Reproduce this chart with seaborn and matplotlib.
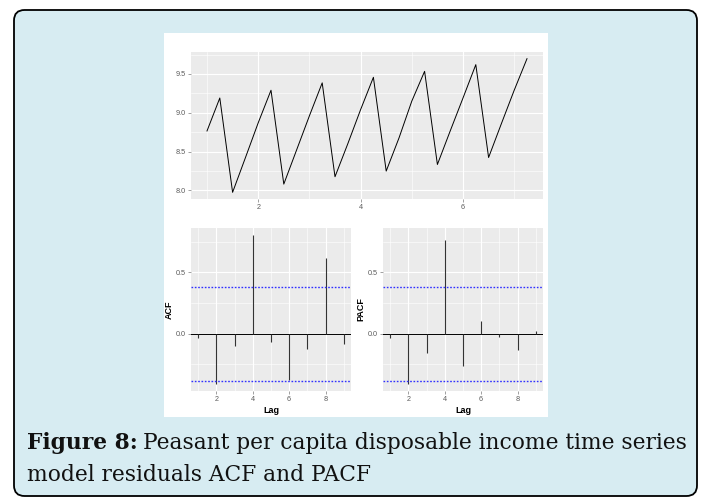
import numpy as np
import pandas as pd
import matplotlib
matplotlib.use("Agg")
import matplotlib.pyplot as plt
import seaborn as sns
from matplotlib.patches import FancyBboxPatch, Rectangle
from matplotlib.ticker import MultipleLocator, FormatStrFormatter

# residual series, quarterly starting at 1
series_time = [1.0, 1.25, 1.5, 1.75, 2.0, 2.25, 2.5, 2.75, 3.0, 3.25, 3.5, 3.75, 4.0,
               4.25, 4.5, 4.75, 5.0, 5.25, 5.5, 5.75, 6.0, 6.25, 6.5, 6.75, 7.0, 7.25]
series_value = [8.765, 9.19, 7.974, 8.42, 8.87, 9.29, 8.08, 8.52, 8.96, 9.385, 8.175, 8.60, 9.04,
                9.457, 8.248, 8.675, 9.15, 9.534, 8.333, 8.765, 9.19, 9.62, 8.423, 8.86, 9.29, 9.697]

lags = [1, 2, 3, 4, 5, 6, 7, 8, 9]
acf_values = [-0.036, -0.407, -0.104, 0.802, -0.066, -0.379, -0.126, 0.621, -0.085]
pacf_values = [-0.033, -0.41, -0.156, 0.768, -0.26, 0.104, -0.025, -0.137, 0.022]
conf_limit = 1.96 / np.sqrt(len(series_value))

caption_bold = "Figure 8:"
caption_line1 = "Peasant per capita disposable income time series"
caption_line2 = "model residuals ACF and PACF"

W, H = 704, 499
fig = plt.figure(figsize=(W / 100, H / 100), dpi=100)
fig.patch.set_facecolor("white")


def fx(px):
    return px / W


def fy(py):
    return 1 - py / H


# rounded light-blue frame with the white chart sheet on it
frame = FancyBboxPatch((fx(14), fy(496)), fx(697) - fx(14), fy(10) - fy(496),
                       boxstyle="round,pad=0,rounding_size=0.015", transform=fig.transFigure,
                       facecolor="#d7ecf2", edgecolor="black", linewidth=1.3,
                       mutation_aspect=W / H, zorder=-2)
fig.patches.append(frame)
fig.patches.append(Rectangle((fx(164), fy(417)), fx(384), 384 / H, transform=fig.transFigure,
                             facecolor="white", edgecolor="none", zorder=-1))

tick_font = dict(family="Liberation Sans", size=5.2, color="#5a5a5a")


def gg_axes(ax):
    ax.set_facecolor("#ebebeb")
    for s in ax.spines.values():
        s.set_visible(False)
    ax.grid(which="major", color="white", linewidth=0.8)
    ax.grid(which="minor", color="white", linewidth=0.4)
    ax.set_axisbelow(True)
    ax.tick_params(which="major", length=2, width=0.5, color="#7a7a7a", pad=1.5)
    ax.tick_params(which="minor", length=0)
    for lab in ax.get_xticklabels() + ax.get_yticklabels():
        lab.set_fontfamily(tick_font["family"])
        lab.set_fontsize(tick_font["size"])
        lab.set_color(tick_font["color"])


def expand(lo, hi, f=0.05):
    r = hi - lo
    return lo - r * f, hi + r * f


# top: residual series
ax_top = fig.add_axes([fx(191), fy(199), fx(352), 147 / H])
df = pd.DataFrame({"time": series_time, "value": series_value})
sns.lineplot(data=df, x="time", y="value", ax=ax_top, color="black", linewidth=0.7)
ax_top.set_xlim(*expand(min(series_time), max(series_time)))
ax_top.set_ylim(*expand(min(series_value), max(series_value)))
ax_top.xaxis.set_major_locator(MultipleLocator(2))
ax_top.xaxis.set_minor_locator(MultipleLocator(1))
ax_top.yaxis.set_major_locator(MultipleLocator(0.5))
ax_top.yaxis.set_minor_locator(MultipleLocator(0.25))
ax_top.yaxis.set_major_formatter(FormatStrFormatter("%.1f"))
ax_top.set_xlabel("")
ax_top.set_ylabel("")
gg_axes(ax_top)

# ACF / PACF panels
acf_lo = min(min(acf_values), -conf_limit)
acf_hi = max(max(acf_values), conf_limit)
ylim = expand(acf_lo, acf_hi)
panels = [(fx(191), acf_values, "ACF"), (fx(383), pacf_values, "PACF")]
for left, vals, name in panels:
    ax = fig.add_axes([left, fy(391), fx(160), 163 / H])
    stem = pd.DataFrame({"lag": lags, "value": vals})
    ax.axhline(0, color="black", linewidth=0.7)
    ax.vlines(stem["lag"], 0, stem["value"], color="#333333", linewidth=0.8)
    for c in (conf_limit, -conf_limit):
        ax.axhline(c, color="#3030ff", linewidth=1.0, linestyle=(0, (1.2, 1.2)))
    ax.set_xlim(*expand(min(lags), max(lags)))
    ax.set_ylim(*ylim)
    ax.xaxis.set_major_locator(MultipleLocator(2))
    ax.xaxis.set_minor_locator(MultipleLocator(1))
    ax.yaxis.set_major_locator(MultipleLocator(0.5))
    ax.yaxis.set_minor_locator(MultipleLocator(0.25))
    ax.yaxis.set_major_formatter(FormatStrFormatter("%.1f"))
    ax.set_xlabel("Lag", family="Liberation Sans", fontsize=6.5, fontweight="bold", labelpad=2)
    ax.set_ylabel(name, family="Liberation Sans", fontsize=6.5, fontweight="bold", labelpad=2)
    gg_axes(ax)

# caption
cap_font = dict(family="DejaVu Serif", size=15.7, color="#111111")
t_bold = fig.text(fx(27), fy(449), caption_bold, fontweight="bold", va="baseline", **cap_font)
fig.canvas.draw()
bb = t_bold.get_window_extent()
fig.text((bb.x1 + 5) / W, fy(449), caption_line1, va="baseline", **cap_font)
fig.text(fx(27), fy(481), caption_line2, va="baseline", **cap_font)

fig.savefig("out.png", dpi=100)
